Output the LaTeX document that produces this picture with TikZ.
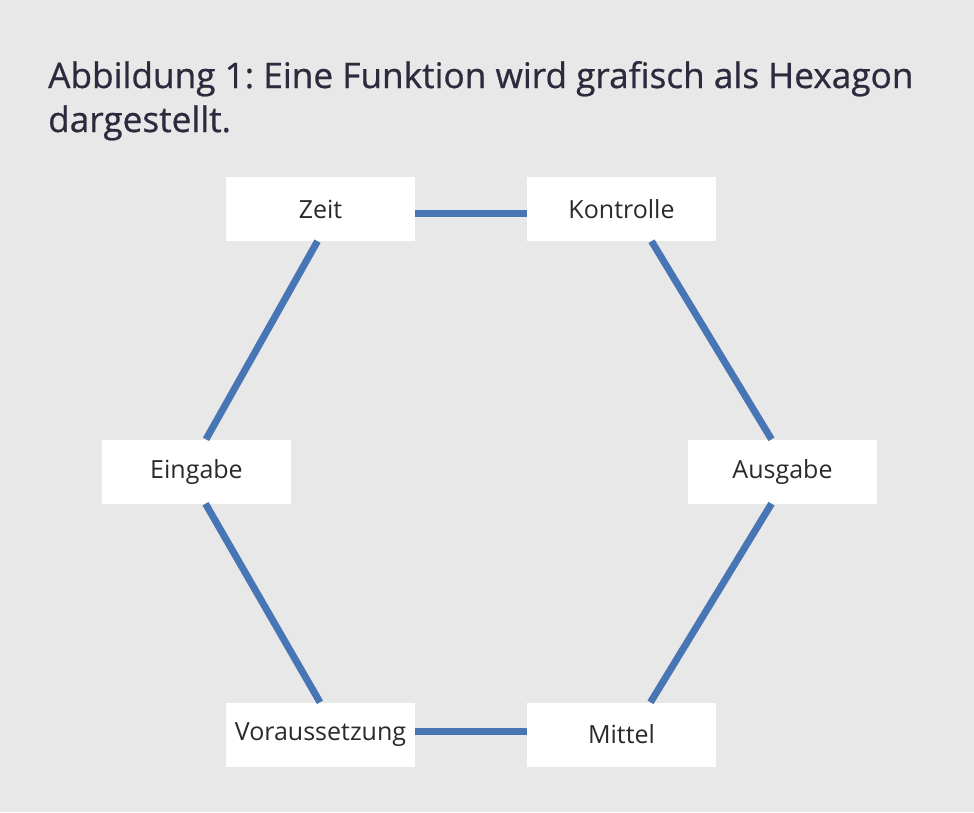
\documentclass[tikz,border=0pt]{standalone}
\usepackage{fontspec}
\setmainfont{Open Sans}
\newfontfamily\titlefont[FakeBold=0.7]{Open Sans}
\frenchspacing
\definecolor{bgc}{HTML}{E8E8E8}
\definecolor{linec}{HTML}{4876B4}
\definecolor{titlec}{HTML}{2B2B3D}
\definecolor{labelc}{HTML}{2A2A2A}
\tikzset{
  box/.style={fill=white, minimum width=189pt, minimum height=64pt, inner sep=0pt,
    text=labelc, font=\fontsize{25}{30}\selectfont},
  conn/.style={draw=linec, line width=7pt}
}
\begin{document}
\begin{tikzpicture}[x=1pt,y=-1pt]
\fill[bgc] (0,0) rectangle (974,812);
\useasboundingbox (0,0) rectangle (974,812);
\node[anchor=base west, align=left, text=titlec, font=\titlefont\fontsize{35.2}{44}\selectfont, inner sep=0pt] (title) at (48,132)
  {Abbildung 1: Eine Funktion wird grafisch als Hexagon\\dargestellt.};
\node[box] (zeit) at (320.5,209) {Zeit};
\node[box] (kontrolle) at (621.5,209) {Kontrolle};
\node[box] (eingabe) at (196.5,471.5) {Eingabe};
\node[box] (ausgabe) at (782.5,471.5) {Ausgabe};
\node[box] (vor) at (320.5,734.5) {Voraussetzung};
\node[box] (mittel) at (621.5,734.5) {Mittel};
\draw[conn] ([yshift=-4pt]zeit.east) -- ([yshift=-4pt]kontrolle.west);
\draw[conn] ([yshift=3.5pt]vor.east) -- ([yshift=3.5pt]mittel.west);
\draw[conn] ([xshift=-3pt]zeit.south) -- ([xshift=9.5pt]eingabe.north);
\draw[conn] ([xshift=9pt]eingabe.south) -- ([xshift=-0.5pt]vor.north);
\draw[conn] ([xshift=30pt]kontrolle.south) -- ([xshift=-11pt]ausgabe.north);
\draw[conn] ([xshift=-11pt]ausgabe.south) -- ([xshift=29pt]mittel.north);
\end{tikzpicture}
\end{document}
